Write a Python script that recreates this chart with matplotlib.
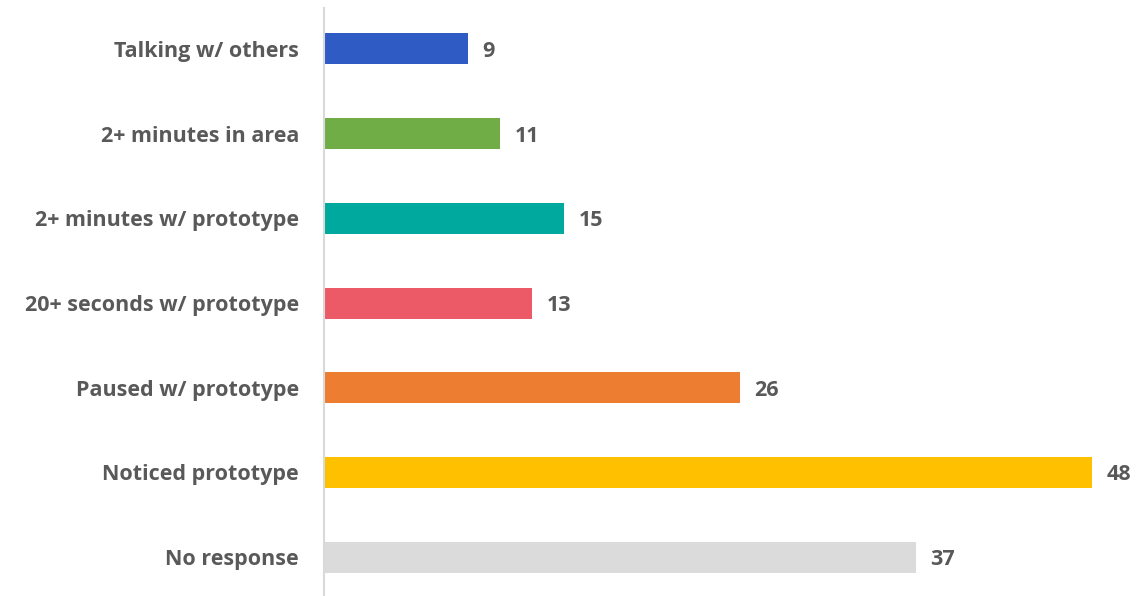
import matplotlib.pyplot as plt

categories = ["Talking w/ others", "2+ minutes in area", "2+ minutes w/ prototype",
              "20+ seconds w/ prototype", "Paused w/ prototype", "Noticed prototype",
              "No response"]
values = [9, 11, 15, 13, 26, 48, 37]
colors = ["#2E5BC4", "#70AD47", "#00A99D", "#EB5A66", "#ED7D31", "#FFC000", "#DBDBDC"]

plt.rcParams['font.family'] = ['Open Sans', 'DejaVu Sans']
text_color = "#595959"

fig = plt.figure(figsize=(11.37, 5.96), dpi=100)
ax = fig.add_axes([324 / 1137, 0, 1 - 324 / 1137, 1 - 8 / 596])

ypos = list(range(len(categories)))
ax.barh(ypos, values, height=0.366, color=colors)

for y, v in zip(ypos, values):
    ax.text(v + 0.9, y, str(v), va='center_baseline', ha='left', fontsize=15.5,
            fontweight='bold', color=text_color)

ax.set_xlim(0, (1137 - 324) / 16)
ax.set_ylim(6.46, -0.484)
ax.set_yticks(ypos)
ax.set_yticklabels(categories, fontsize=15.5, fontweight='bold', color=text_color,
                   va='center_baseline')
ax.tick_params(axis='y', length=0, pad=18)
ax.set_xticks([])

for side in ['top', 'right', 'bottom']:
    ax.spines[side].set_visible(False)
ax.spines['left'].set_color('#D9D9D9')
ax.spines['left'].set_linewidth(1.5)

fig.savefig("out.png", dpi=100)
